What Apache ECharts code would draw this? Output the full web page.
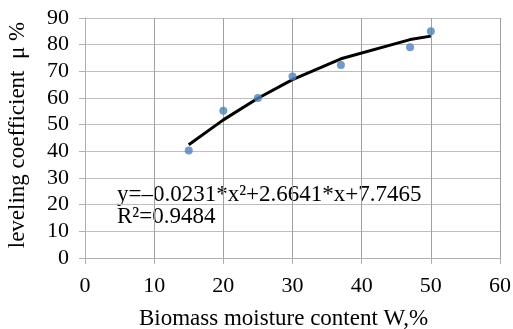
<!DOCTYPE html>
<html>
<head>
<meta charset="utf-8">
<script src="https://cdn.jsdelivr.net/npm/echarts@6/dist/echarts.min.js"></script>
<style>
html,body{margin:0;padding:0;background:#fff;}
#chart{width:513px;height:329px;}
</style>
</head>
<body>
<div id="chart"></div>
<script>
// Measured points
var moisture = [15, 20, 25, 30, 37, 47, 50];
var leveling = [40.3, 55.2, 60.0, 68.1, 72.4, 79.0, 85.0];
// Trend line values at the same x positions
var trendValues = [42.5, 51.8, 59.9, 66.9, 74.7, 81.9, 83.2];
var xTicks = [0, 10, 20, 30, 40, 50, 60];
var yTicks = [0, 10, 20, 30, 40, 50, 60, 70, 80, 90];
var xTitle = 'Biomass moisture content W,%';
var yTitle = 'leveling coefficient  μ %';
var equationText = 'y=–0.0231*x²+2.6641*x+7.7465';
var r2Text = 'R²=0.9484';

var font = 'Liberation Serif, Times New Roman, serif';
var pts = moisture.map(function (x, i) { return [x, leveling[i]]; });
var trend = moisture.map(function (x, i) { return [x, trendValues[i]]; });

var chart = echarts.init(document.getElementById('chart'));
chart.setOption({
  animation: false,
  backgroundColor: '#fff',
  grid: { left: 85, right: 13, top: 18, bottom: 71, containLabel: false, outerBoundsMode: 'none' },
  xAxis: {
    type: 'value', min: xTicks[0], max: xTicks[xTicks.length - 1], interval: 10,
    name: xTitle, nameLocation: 'middle', nameGap: 49,
    nameTextStyle: { fontFamily: font, fontSize: 23, color: '#000', padding: [0, 18, 0, 0] },
    axisLine: { show: true, lineStyle: { color: '#b0b0b0', width: 1 } },
    axisTick: { show: true, inside: false, length: 6, lineStyle: { color: '#b0b0b0' } },
    axisLabel: { fontFamily: font, fontSize: 22, color: '#000', margin: 17 },
    splitLine: { show: true, lineStyle: { color: '#a0a0a0', width: 1 } }
  },
  yAxis: {
    type: 'value', min: yTicks[0], max: yTicks[yTicks.length - 1], interval: 10,
    name: yTitle, nameLocation: 'middle', nameGap: 56, nameRotate: 90,
    nameTextStyle: { fontFamily: font, fontSize: 23, color: '#000', padding: [0, 0, 0, 6] },
    axisLine: { show: true, lineStyle: { color: '#b0b0b0', width: 1 } },
    axisTick: { show: true, inside: false, length: 6, lineStyle: { color: '#b0b0b0' } },
    axisLabel: { fontFamily: font, fontSize: 22, color: '#000', margin: 16 },
    splitLine: { show: true, lineStyle: { color: '#bdbdbd', width: 1 } }
  },
  graphic: [
    { type: 'text', left: 117, top: 183, style: { text: equationText, font: '23px ' + font, fill: '#000' } },
    { type: 'text', left: 117, top: 205, style: { text: r2Text, font: '23px ' + font, fill: '#000' } }
  ],
  series: [
    {
      type: 'line', data: trend, showSymbol: false, symbol: 'none',
      lineStyle: { color: '#000', width: 3 }, z: 3
    },
    {
      type: 'scatter', data: pts, symbol: 'circle', symbolSize: 8,
      itemStyle: { color: '#4f81bd' }, z: 4
    }
  ]
});
</script>
</body>
</html>
